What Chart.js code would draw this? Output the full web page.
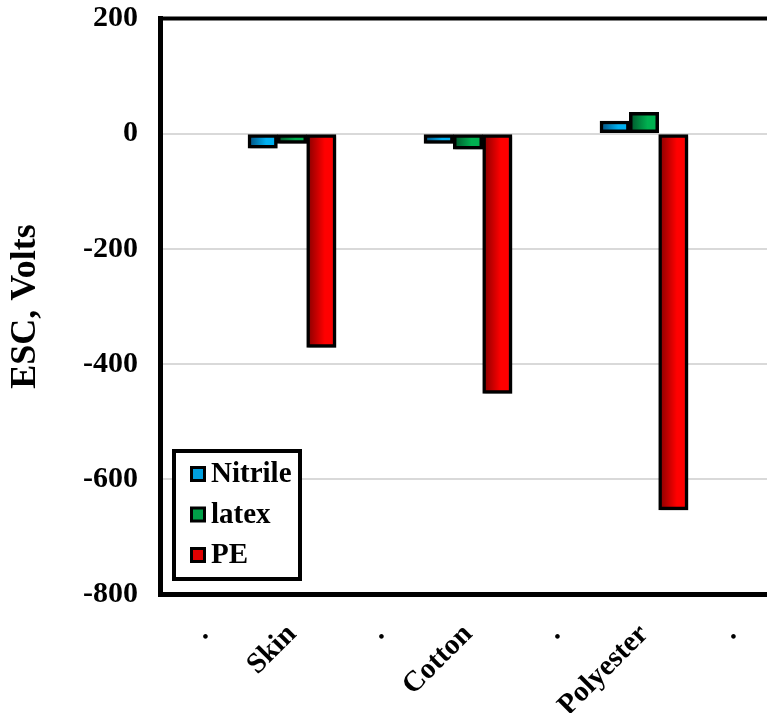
<!DOCTYPE html>
<html>
<head>
<meta charset="utf-8">
<script src="https://cdn.jsdelivr.net/npm/chart.js@4.4.1/dist/chart.umd.min.js"></script>
<style>
  html, body { margin: 0; padding: 0; background: #fff; overflow: hidden; }
  #wrap { width: 790px; height: 713px; }
</style>
</head>
<body>
<div id="wrap"><canvas id="myChart" width="790" height="713"></canvas></div>
<script>
// categories (the dots are spacer slots between the groups)
const labels = ['.', 'Skin', '.', 'Cotton', '.', 'Polyester', '.'];

// ESC values, Volts
const nitrileValues = [null, -25, null, -17, null, 22, null];
const latexValues = [null, -17, null, -27, null, 37, null];
const peValues = [null, -371, null, -451, null, -653, null];

const yTicks = { min: -800, max: 200, step: 200 };

const serif = "'Times New Roman', 'Liberation Serif', serif";
Chart.defaults.font.family = serif;
Chart.defaults.font.weight = 'bold';
Chart.defaults.color = '#000';

// left-dark to right-bright fill, one gradient per bar
function barFill(dark, light) {
  return function (c) {
    const chart = c.chart;
    const x = chart.scales.x;
    if (!x || c.dataIndex === undefined) return light;
    const n = chart.data.datasets.length;
    const slot = x.width / chart.data.labels.length / n;
    const left = x.getPixelForValue(c.dataIndex) - slot * n / 2 + slot * c.datasetIndex;
    if (!isFinite(left) || !isFinite(slot) || slot <= 0) return light;
    const g = chart.ctx.createLinearGradient(left + 3, 0, left + slot - 3, 0);
    g.addColorStop(0, dark);
    g.addColorStop(0.65, light);
    g.addColorStop(1, light);
    return g;
  };
}

const barShadow = {
  id: 'barShadow',
  beforeDatasetsDraw(chart) {
    const ctx = chart.ctx;
    ctx.save();
    ctx.shadowColor = 'rgba(0,0,0,0.3)';
    ctx.shadowOffsetX = 2;
    ctx.shadowOffsetY = 2;
    ctx.shadowBlur = 2;
  },
  afterDatasetsDraw(chart) {
    chart.ctx.restore();
  }
};

// top (and right) edge of the plot frame
const frame = {
  id: 'frame',
  afterDraw(chart) {
    const { ctx, chartArea: a } = chart;
    ctx.save();
    ctx.strokeStyle = '#000';
    ctx.lineWidth = 4;
    ctx.beginPath();
    ctx.moveTo(a.left, a.top);
    ctx.lineTo(a.right, a.top);
    ctx.lineTo(a.right, a.bottom);
    ctx.stroke();
    ctx.restore();
  }
};

// boxed legend inside the plot, lower left
const boxLegend = {
  id: 'boxLegend',
  afterDraw(chart) {
    const ctx = chart.ctx;
    ctx.save();
    ctx.fillStyle = '#fff';
    ctx.fillRect(174, 451, 126, 128);
    ctx.strokeStyle = '#000';
    ctx.lineWidth = 4;
    ctx.strokeRect(174, 451, 126, 128);
    ctx.font = 'bold 29px ' + serif;
    ctx.textBaseline = 'middle';
    chart.data.datasets.forEach((ds, i) => {
      const cy = 474 + i * 40.5;
      ctx.fillStyle = '#000';
      ctx.fillRect(190, cy - 8, 16, 16);
      ctx.fillStyle = ds.legendColor;
      ctx.fillRect(193, cy - 5, 10, 10);
      ctx.fillStyle = '#000';
      ctx.fillText(ds.label, 211, cy + 1);
    });
    ctx.restore();
  }
};

const ctx = document.getElementById('myChart');

const myChart = new Chart(ctx, {
  type: 'bar',
  data: {
    labels: labels,
    datasets: [
      {
        label: 'Nitrile',
        data: nitrileValues,
        backgroundColor: barFill('#005a8c', '#00b0f0'),
        legendColor: '#00a0e0',
      },
      {
        label: 'latex',
        data: latexValues,
        backgroundColor: barFill('#006030', '#00b050'),
        legendColor: '#00a048',
      },
      {
        label: 'PE',
        data: peValues,
        backgroundColor: barFill('#960000', '#ff0000'),
        legendColor: '#e00000',
      }
    ]
  },
  options: {
    responsive: false,
    animation: false,
    categoryPercentage: 1.0,
    barPercentage: 1.0,
    borderColor: '#000',
    borderWidth: 3.5,
    borderSkipped: false,
    layout: {
      padding: { top: 18.5, right: 14, left: 0, bottom: 0 }
    },
    plugins: {
      legend: { display: false },
      tooltip: { enabled: false }
    },
    scales: {
      x: {
        grid: { display: false, drawTicks: false },
        border: { display: true, color: '#000', width: 5 },
        ticks: {
          minRotation: 45,
          maxRotation: 45,
          autoSkip: false,
          padding: 23,
          font: { size: 29, weight: 'bold' }
        },
        afterFit(s) {
          s.height = 118.5;
          s.paddingLeft = 0;
          s.paddingRight = 0;
        }
      },
      y: {
        min: yTicks.min,
        max: yTicks.max,
        grid: { color: '#d9d9d9', lineWidth: 2, drawTicks: false },
        border: { display: true, color: '#000', width: 5 },
        ticks: {
          stepSize: yTicks.step,
          padding: 22,
          font: { size: 30, weight: 'bold' }
        },
        title: {
          display: true,
          text: 'ESC, Volts',
          padding: { top: 4, bottom: 0 },
          font: { size: 36, weight: 'bold' }
        },
        afterFit(s) {
          s.width = 160;
          s.paddingTop = 0;
          s.paddingBottom = 0;
        }
      }
    }
  },
  plugins: [barShadow, frame, boxLegend]
});
</script>
</body>
</html>
